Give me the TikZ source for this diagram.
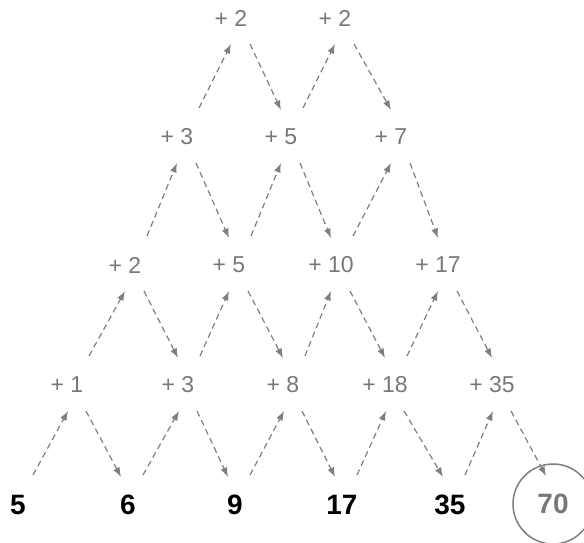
\documentclass[tikz,border=0pt]{standalone}
\usepackage{fontspec}
\setmainfont{Liberation Sans}
\usetikzlibrary{arrows.meta}
\definecolor{arrgray}{HTML}{7F7F7F}
\definecolor{txtgray}{HTML}{787878}
\begin{document}
\begin{tikzpicture}[x=1pt,y=1pt,
  plus/.style={inner sep=0pt,text=txtgray,font=\fontsize{23}{27}\selectfont},
  num/.style={inner sep=0pt,text=black,font=\fontsize{28}{31}\selectfont\bfseries},
  res/.style={circle,draw=arrgray,line width=1.5pt,minimum size=80pt,inner sep=0pt,text=txtgray,font=\fontsize{28}{31}\selectfont\bfseries},
  arr/.style={draw=arrgray,line width=1.2pt,dash pattern=on 6pt off 4pt,-{Latex[length=9.5pt,width=7pt]}}]
\useasboundingbox (0,0) rectangle (584,543);
% bottom numbers
\node[num] (b1) at (18,38) {5};
\node[num] (b2) at (128,38) {6};
\node[num] (b3) at (235,38) {9};
\node[num] (b4) at (342,38) {17};
\node[num] (b5) at (450,38) {35};
\node[res] (b6) at (553,39) {70};
% row 1
\node[plus] (a1) at (67,158) {+ 1};
\node[plus] (a2) at (178,158) {+ 3};
\node[plus] (a3) at (283,158) {+ 8};
\node[plus] (a4) at (385,158) {+ 18};
\node[plus] (a5) at (492,158) {+ 35};
% row 2
\node[plus] (c1) at (125,278) {+ 2};
\node[plus] (c2) at (229,278) {+ 5};
\node[plus] (c3) at (331,278) {+ 10};
\node[plus] (c4) at (438,278) {+ 17};
% row 3
\node[plus] (d1) at (177,406) {+ 3};
\node[plus] (d2) at (281,406) {+ 5};
\node[plus] (d3) at (391,406) {+ 7};
% row 4
\node[plus] (e1) at (231,525) {+ 2};
\node[plus] (e2) at (335,525) {+ 2};
% bottom level arrows
\foreach \i/\j in {1/2,2/3,3/4,4/5,5/6}{
  \draw[arr] ([shift={(15,30)}]b\i.center) -- ([shift={(1,-26)}]a\i.center);
  \draw[arr] ([shift={(19,-26)}]a\i.center) -- ([shift={(-7,28)}]b\j.center);
}
% level 2
\foreach \i/\j in {1/2,2/3,3/4,4/5}{
  \draw[arr] ([shift={(22,29)}]a\i.center) -- ([shift={(0,-26)}]c\i.center);
  \draw[arr] ([shift={(19,-26)}]c\i.center) -- ([shift={(0,27)}]a\j.center);
}
% level 3
\foreach \i/\j in {1/2,2/3,3/4}{
  \draw[arr] ([shift={(22,29)}]c\i.center) -- ([shift={(0,-26)}]d\i.center);
  \draw[arr] ([shift={(19,-26)}]d\i.center) -- ([shift={(0,27)}]c\j.center);
}
% level 4
\foreach \i/\j in {1/2,2/3}{
  \draw[arr] ([shift={(22,29)}]d\i.center) -- ([shift={(0,-26)}]e\i.center);
  \draw[arr] ([shift={(19,-26)}]e\i.center) -- ([shift={(0,27)}]d\j.center);
}
\end{tikzpicture}
\end{document}
